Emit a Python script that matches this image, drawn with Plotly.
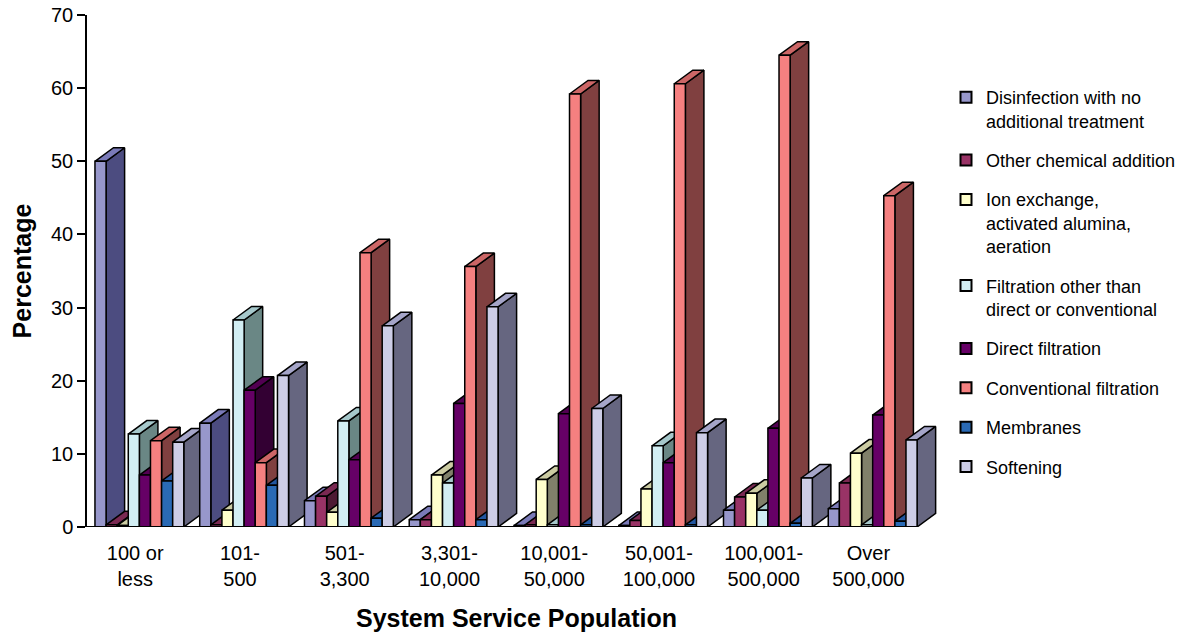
import plotly.graph_objects as go

# Service-population size classes (x categories)
categories = ["100 or<br>less", "101-<br>500", "501-<br>3,300", "3,301-<br>10,000",
              "10,001-<br>50,000", "50,001-<br>100,000", "100,001-<br>500,000", "Over<br>500,000"]

# Percentage of systems using each treatment type, per size class
disinfection = [50.0, 14.2, 3.6, 1.0, 0.2, 0.2, 2.3, 2.5]
other_chemical = [0.3, 0.3, 4.2, 1.0, 0.3, 0.9, 4.1, 6.0]
ion_exchange = [0.2, 2.3, 2.0, 7.1, 6.5, 5.2, 4.6, 10.1]
filtration_other = [12.7, 28.3, 14.5, 6.0, 0.3, 11.1, 2.3, 0.3]
direct_filtration = [7.1, 18.7, 9.2, 16.9, 15.5, 8.8, 13.5, 15.3]
conventional = [11.8, 8.8, 37.5, 35.6, 59.2, 60.6, 64.5, 45.3]
membranes = [6.3, 5.7, 1.2, 1.0, 0.3, 0.3, 0.5, 0.8]
softening = [11.6, 20.7, 27.5, 30.1, 16.2, 12.9, 6.7, 11.9]

series_names = ["Disinfection with no<br>additional treatment", "Other chemical addition",
                "Ion exchange,<br>activated alumina,<br>aeration",
                "Filtration other than<br>direct or conventional", "Direct filtration",
                "Conventional filtration", "Membranes", "Softening"]
series_values = [disinfection, other_chemical, ion_exchange, filtration_other,
                 direct_filtration, conventional, membranes, softening]

# (front, side, top) face colours for the pseudo-3D columns
face_colors = [
    ("#9797CB", "#4C4C80", "#7A7AB8"),
    ("#993366", "#4D1A33", "#7A2952"),
    ("#FFFFCC", "#80806A", "#CCCCA3"),
    ("#D2EEF3", "#6A8785", "#A6C8CB"),
    ("#660066", "#330033", "#520052"),
    ("#F58080", "#804040", "#CC6666"),
    ("#2A6AB5", "#17365C", "#2256A0"),
    ("#CDCDE6", "#666680", "#A5A5C8"),
]

BAR_W = 0.106            # column width in category units
PAD = (1 - 8 * BAR_W) / 2
DX = 0.177               # depth offset (x units)
DY = 1.85                # depth offset (y units)
EDGE = dict(color="black", width=1.5)
FONT = "Liberation Sans, Arial, sans-serif"

fig = go.Figure()


def face(xs, ys, color):
    fig.add_trace(go.Scatter(x=xs + [xs[0]], y=ys + [ys[0]], mode="lines", fill="toself",
                             fillcolor=color, line=EDGE, hoverinfo="skip", showlegend=False))


for i in range(len(categories)):
    for j, vals in enumerate(series_values):
        v = vals[i]
        front, side, top = face_colors[j]
        x0 = i + PAD + j * BAR_W
        x1 = x0 + BAR_W
        face([x1, x1 + DX, x1 + DX, x1], [0, DY, v + DY, v], side)
        face([x0, x1, x1 + DX, x0 + DX], [v, v, v + DY, v + DY], top)
        face([x0, x1, x1, x0], [0, 0, v, v], front)

# floor front edge
fig.add_trace(go.Scatter(x=[0, len(categories) - 1 + PAD + 8 * BAR_W], y=[0, 0], mode="lines",
                         line=dict(color="black", width=2), hoverinfo="skip", showlegend=False))

# legend entries
for j, name in enumerate(series_names):
    fig.add_trace(go.Scatter(x=[None], y=[None], mode="markers", name=name, legendgroup=str(j),
                             marker=dict(symbol="square", size=11, color=face_colors[j][0],
                                         line=dict(color="black", width=2))))

fig.update_layout(
    width=1193, height=635,
    margin=dict(l=87, r=247, t=15, b=108),
    plot_bgcolor="white", paper_bgcolor="white",
    font=dict(family=FONT, color="black"),
    showlegend=True,
    legend=dict(x=1.0, y=0.875, xanchor="left", yanchor="top", font=dict(size=18, family=FONT),
                traceorder="grouped", tracegroupgap=13, valign="top", bgcolor="rgba(0,0,0,0)"),
    xaxis=dict(range=[0, 8.2], tickvals=[k + 0.46 for k in range(len(categories))], ticktext=categories,
               ticks="", showgrid=False, zeroline=False, showline=False, automargin=False,
               ticklabelstandoff=12, tickfont=dict(size=20, family=FONT),
               title=dict(text="System Service Population", font=dict(size=25, family=FONT, weight="bold"),
                          standoff=20)),
    yaxis=dict(range=[0, 70], tickvals=list(range(0, 71, 10)), ticks="outside", ticklen=8, tickwidth=1.5,
               tickcolor="black", showline=True, linecolor="black", linewidth=1.5, showgrid=False,
               zeroline=False, automargin=False, tickfont=dict(size=20, family=FONT),
               title=dict(text="Percentage", font=dict(size=25, family=FONT, weight="bold"), standoff=12)),
)

fig.write_html("out.html")
